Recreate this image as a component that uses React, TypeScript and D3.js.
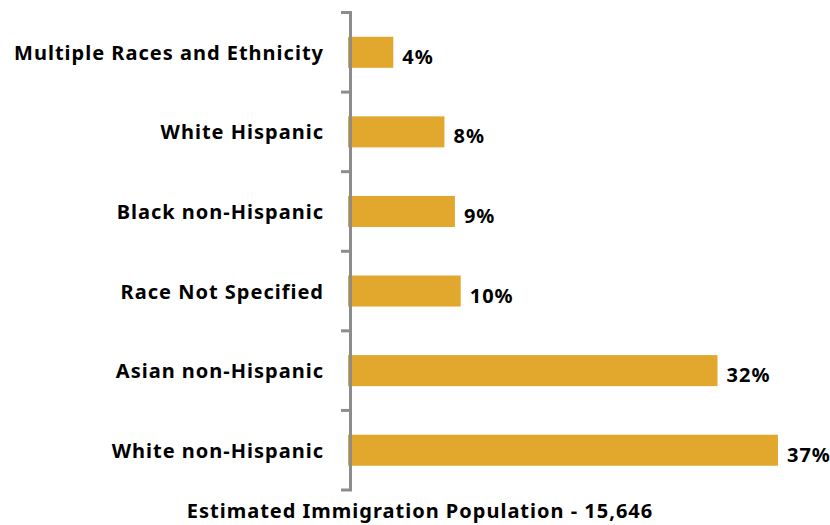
import React from "react";
import * as d3 from "d3";

const categories = [
  "Multiple Races and Ethnicity",
  "White Hispanic",
  "Black non-Hispanic",
  "Race Not Specified",
  "Asian non-Hispanic",
  "White non-Hispanic",
];
const values = [3.9, 8.3, 9.2, 9.7, 31.8, 37];
const axisTitle = "Estimated Immigration Population - 15,646";

const W = 830;
const H = 525;
const FONT = "'Noto Sans', 'Open Sans', sans-serif";

export default function App() {
  const y = d3.scaleBand<string>().domain(categories).range([12.5, 490]).paddingInner(0.61).paddingOuter(0.305);
  const x = d3.scaleLinear().domain([0, 40]).range([348, 348 + 11.62 * 40]);
  const ticks = d3.range(categories.length + 1).map((i) => 12.5 + (i * (490 - 12.5)) / categories.length);
  return (
    <svg width={W} height={H} style={{ position: "absolute", left: 0, top: 0 }} fontFamily={FONT}>
      <rect width={W} height={H} fill="#fff" />
      {categories.map((c, i) => (
        <g key={c}>
          <rect x={x(0)} y={y(c)} width={x(values[i]) - x(0)} height={y.bandwidth()} fill="#E2A82E" />
          <text
            x={x(values[i]) + 9}
            y={(y(c) as number) + y.bandwidth() / 2 + 4}
            dominantBaseline="central"
            fontSize={20}
            letterSpacing={1}
            fontWeight="bold"
            fill="#000"
          >
            {Math.round(values[i]) + "%"}
          </text>
          <text
            x={324}
            y={(y(c) as number) + y.bandwidth() / 2}
            dominantBaseline="central"
            textAnchor="end"
            fontSize={20}
            letterSpacing={1}
            fontWeight="bold"
            fill="#000"
          >
            {c}
          </text>
        </g>
      ))}
      <line x1={350.5} x2={350.5} y1={ticks[0]} y2={ticks[ticks.length - 1]} stroke="#8C8C8C" strokeWidth={3} />
      {ticks.map((t, i) => (
        <line key={i} x1={341} x2={352} y1={t} y2={t} stroke="#8C8C8C" strokeWidth={3} />
      ))}
      <text x={420} y={510} textAnchor="middle" dominantBaseline="central" fontSize={20} letterSpacing={1} fontWeight="bold" fill="#000">
        {axisTitle}
      </text>
    </svg>
  );
}
